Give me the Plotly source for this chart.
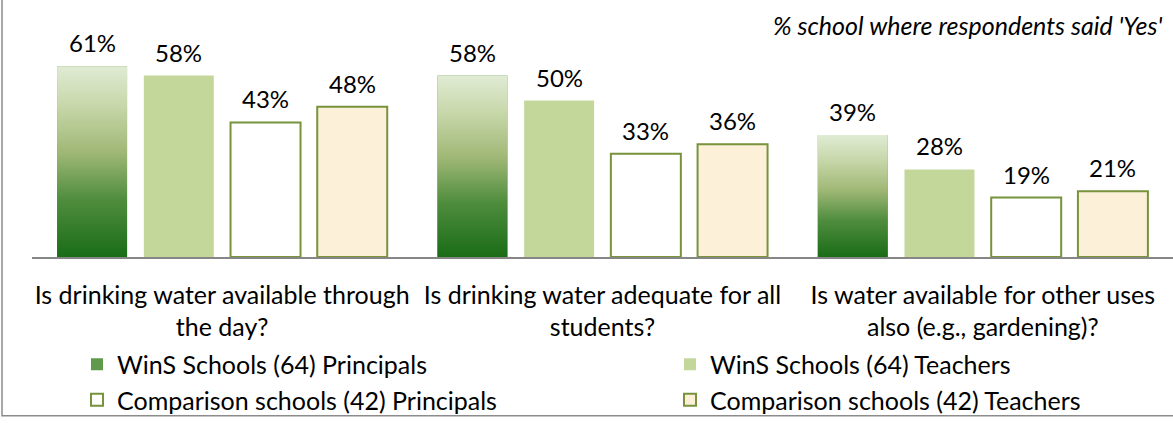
import plotly.graph_objects as go

# data
questions = [
    "Is drinking water available through<br>the day?",
    "Is drinking water adequate for all<br>students?",
    "Is water available for other uses<br>also (e.g., gardening)?",
]
series_names = [
    "WinS Schools (64) Principals",
    "WinS Schools (64) Teachers",
    "Comparison schools (42) Principals",
    "Comparison schools (42) Teachers",
]
wins_principals = [61, 58, 39]
wins_teachers = [58, 50, 28]
comp_principals = [43, 33, 19]
comp_teachers = [48, 36, 21]
values = [wins_principals, wins_teachers, comp_principals, comp_teachers]

FONT = "Lato"
W, H = 1173, 423
ML, MR, MT, MB = 32, 0, 38, 163
PW, PH = W - ML - MR, H - MT - MB
YMAX = 70


def px_x(px):
    return (px - ML) / PW


def px_y(py):
    return (H - MB - py) / PH


slot = 0.228
bar_w = 0.184
offsets = [(-1.5 + k) * slot - bar_w / 2 for k in range(4)]
xs = list(range(len(questions)))

green_scale = [[0, "#1a6c17"], [0.3, "#4f8d3d"], [0.55, "#a0b876"],
               [0.8, "#c8d8ab"], [1, "#e0ebd4"]]
fills = ["#5f9a4c", "#c4d79b", "#ffffff", "#fdf0d9"]
lines = ["rgba(0,0,0,0)", "rgba(0,0,0,0)", "#77933c", "#77933c"]
line_w = [0, 0, 2, 2]
legend_ids = ["legend", "legend2", "legend3", "legend4"]

fig = go.Figure()
for k in range(4):
    fig.add_trace(go.Bar(x=xs, y=values[k], name=series_names[k],
                         offset=offsets[k], width=bar_w,
                         marker=dict(color=fills[k],
                                     line=dict(color=lines[k], width=line_w[k])),
                         legend=legend_ids[k], hoverinfo="skip"))

# gradient overlay for the WinS principals bars
for i, v in zip(xs, wins_principals):
    x0, x1 = i + offsets[0], i + offsets[0] + bar_w
    fig.add_trace(go.Scatter(x=[x0, x1, x1, x0, x0], y=[0, 0, v, v, 0],
                             fill="toself", mode="none",
                             fillgradient=dict(type="vertical",
                                               colorscale=green_scale),
                             showlegend=False, hoverinfo="skip"))

# value labels
for k in range(4):
    for i, v in zip(xs, values[k]):
        fig.add_annotation(x=i + offsets[k] + bar_w / 2, y=v, text=f"{v}%",
                           showarrow=False, yanchor="bottom", yshift=7,
                           font=dict(family=FONT, size=24, color="black"))

fig.add_annotation(xref="paper", yref="paper", x=px_x(1164), y=px_y(25),
                   xanchor="right", yanchor="middle", showarrow=False,
                   text="<i>% school where respondents said 'Yes'</i>",
                   font=dict(family=FONT, size=25, color="black"))

# outer frame
fig.add_shape(type="rect", xref="paper", yref="paper",
              x0=px_x(2), x1=px_x(W + 20), y0=px_y(421), y1=px_y(-20),
              line=dict(color="#8c8c8c", width=1.5))

leg_pos = [(77, 369), (670, 369), (77, 405), (670, 405)]
legends = {}
for lid, (lx, ly) in zip(legend_ids, leg_pos):
    legends[lid] = dict(x=px_x(lx), y=px_y(ly), xanchor="left",
                        yanchor="middle", bgcolor="rgba(0,0,0,0)",
                        font=dict(family=FONT, size=25, color="black"))

fig.update_layout(
    width=W, height=H,
    margin=dict(l=ML, r=MR, t=MT, b=MB),
    barmode="overlay",
    plot_bgcolor="white", paper_bgcolor="white",
    font=dict(family=FONT, color="black"),
    xaxis=dict(range=[-0.5, 2.5], tickvals=xs, ticktext=questions,
               showline=True, linecolor="#868686", linewidth=1.5,
               showgrid=False, zeroline=False, ticks="",
               ticklabelstandoff=15,
               tickfont=dict(family=FONT, size=25, color="black")),
    yaxis=dict(range=[0, YMAX], visible=False, showgrid=False),
    **legends,
)

fig.write_html("out.html", config={"displayModeBar": False},
               post_script="document.body.style.margin='0';")
